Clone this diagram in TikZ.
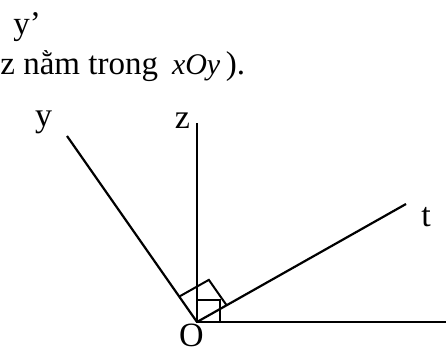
\documentclass[tikz,border=0pt]{standalone}
\usepackage{fontspec}
\setmainfont{Liberation Serif}
\usepackage{tikz}
\usetikzlibrary{positioning,calc}
\tikzset{
    ray/.style={draw=black, line width=1.1pt},
    anglemark/.style={draw=black, line width=1pt},
    boxmark/.style={draw=black, line width=0.75pt},
    lbl/.style={inner sep=0pt, anchor=base, font=\fontsize{17}{20}\selectfont},
    txt/.style={inner sep=0pt, anchor=base west, font=\fontsize{16.5}{19}\selectfont}
}

\begin{document}
\begin{tikzpicture}[x=0.5pt, y=-0.5pt]
\useasboundingbox (0,0) rectangle (446,352);
% rays from O
\coordinate (O) at (197,322);
\coordinate (xend) at (446,322);
\coordinate (zend) at (197,123);
\coordinate (yend) at (67,136);
\coordinate (tend) at (406,204);
\draw[ray] (O) -- (xend);
\draw[ray] (O) -- (zend);
\draw[ray] (O) -- (yend);
\draw[ray] (O) -- (tend);
% right angles
\coordinate (ya) at ($(O)!15.5pt!(yend)$);
\coordinate (ta) at ($(O)!17pt!(tend)$);
\draw[anglemark] (ya) -- ($(ya)+(ta)-(O)$) -- (ta);
\draw[boxmark] (O) rectangle ($(O)+(23,-22)$);
% labels
\node[lbl] (ylabel) at (43.5,127) {y};
\node[lbl] (zlabel) at (182.5,129) {z};
\node[lbl] (tlabel) at (426,227) {t};
\node[lbl] (Olabel) at (191.5,347) {O};
% text above
\node[txt] (line1) at (13,35) {y’};
\node[txt] (line2) at (0,75) {z nằm trong\hspace{7pt}{\fontsize{15}{18}\selectfont\itshape xOy}\,).};
\end{tikzpicture}
\end{document}
